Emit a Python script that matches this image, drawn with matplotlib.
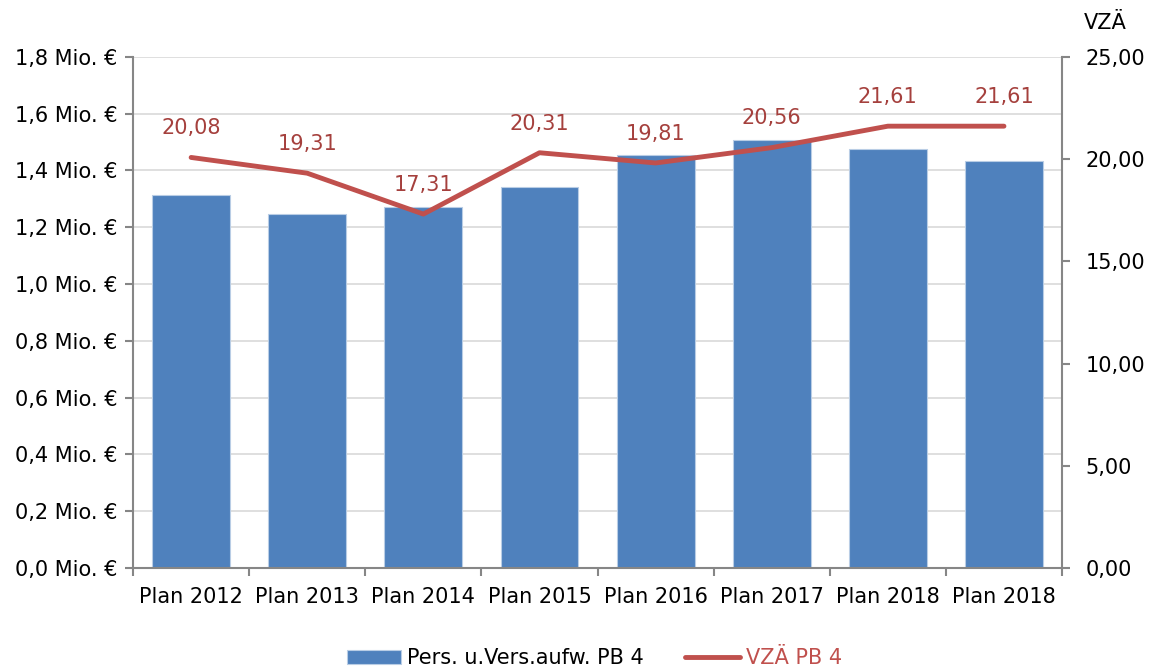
import numpy as np
import matplotlib.pyplot as plt

# data
categories = ["Plan 2012", "Plan 2013", "Plan 2014", "Plan 2015",
              "Plan 2016", "Plan 2017", "Plan 2018", "Plan 2018"]
kosten = [1.314, 1.247, 1.272, 1.342, 1.455, 1.508, 1.476, 1.434]   # Mio. €
vzae = [20.08, 19.31, 17.31, 20.31, 19.81, 20.56, 21.61, 21.61]
left_ticks = [0.0, 0.2, 0.4, 0.6, 0.8, 1.0, 1.2, 1.4, 1.6, 1.8]
right_ticks = [0, 5, 10, 15, 20, 25]

blue = "#4F81BD"
red = "#C0504D"
label_red = "#A5403D"
spine = "#868686"

plt.rcParams['font.family'] = ['DejaVu Sans']
plt.rcParams['font.size'] = 15

fig = plt.figure(figsize=(11.54, 6.69), dpi=100)
ax = fig.add_axes([0.1153, 0.151, 0.805, 0.764])
x = np.arange(len(categories))

ax.bar(x, kosten, width=0.67, color=blue, edgecolor="#B9CDE5", linewidth=0.8,
       zorder=2, label="Pers. u.Vers.aufw. PB 4")
ax.set_xlim(-0.5, len(categories) - 0.5)
ax.set_ylim(0, 1.8)
ax.set_yticks(left_ticks)
ax.set_yticklabels([f"{v:.1f}".replace(".", ",") + " Mio. €" for v in left_ticks])
ax.yaxis.grid(True, color="#D9D9D9", linewidth=1.2, zorder=0)
ax.set_axisbelow(True)

# x ticks at category boundaries, labels centered
ax.set_xticks(np.arange(len(categories) + 1) - 0.5)
ax.set_xticklabels([])
ax.set_xticks(x, minor=True)
ax.set_xticklabels(categories, minor=True)
ax.tick_params(axis="x", which="minor", length=0, pad=14)
ax.tick_params(axis="x", which="major", length=6, color=spine, width=1.5)
ax.tick_params(axis="y", length=6, color=spine, width=1.5, pad=5)

for s in ["top", "right"]:
    ax.spines[s].set_visible(False)
for s in ["left", "bottom"]:
    ax.spines[s].set_color(spine)
    ax.spines[s].set_linewidth(1.5)

ax2 = ax.twinx()
ax2.plot(x, vzae, color=red, linewidth=3.5, solid_capstyle="round",
         zorder=3, label="VZÄ PB 4")
ax2.set_ylim(0, 25)
ax2.set_yticks(right_ticks)
ax2.set_yticklabels([f"{v:.2f}".replace(".", ",") for v in right_ticks])
ax2.tick_params(axis="y", length=6, color=spine, width=1.5, pad=11)
for s in ["top", "left", "bottom"]:
    ax2.spines[s].set_visible(False)
ax2.spines["right"].set_color(spine)
ax2.spines["right"].set_linewidth(1.5)

for xi, v in zip(x, vzae):
    ax2.annotate(f"{v:.2f}".replace(".", ","), (xi, v), xytext=(0, 21),
                 textcoords="offset points", ha="center", va="center",
                 color=label_red, fontsize=15)

fig.text(0.958, 0.965, "VZÄ", ha="center", va="center", fontsize=15)

h1, l1 = ax.get_legend_handles_labels()
h2, l2 = ax2.get_legend_handles_labels()
leg = fig.legend(h1 + h2, l1 + l2, loc="center", bbox_to_anchor=(0.515, 0.016),
                 ncol=2, frameon=False, handlelength=2.6, handletextpad=0.3,
                 columnspacing=2.0, fontsize=15)
leg.get_texts()[1].set_color(red)

fig.savefig("out.png", dpi=100)
